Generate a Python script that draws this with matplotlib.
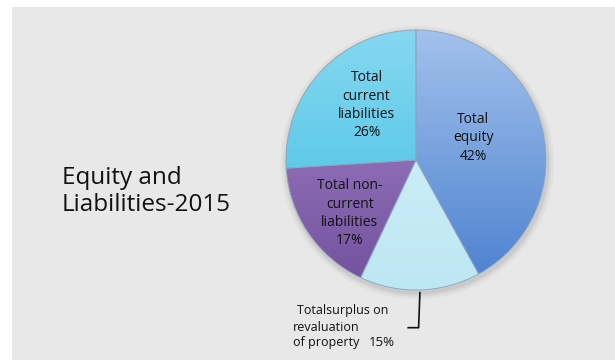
import numpy as np
import matplotlib.pyplot as plt
from matplotlib.colors import to_rgb
from matplotlib.patches import Circle

# balance sheet split, 2015 (percent of total)
categories = ["Total equity", "Total surplus on revaluation of property",
              "Total non-current liabilities", "Total current liabilities"]
shares = [42, 15, 17, 26]
colors = ["#6f9de0", "#c9eef7", "#8c6ab6", "#4ec4e6"]
# top / bottom shades for the glossy fill of each slice
shade_top = ["#a3c2ec", "#d8f3fa", "#a887cc", "#86d8f0"]
shade_bottom = ["#4a7fcf", "#bde7f3", "#71519c", "#3cbde3"]

plt.rcParams['font.family'] = ['Open Sans', 'DejaVu Sans']

fig = plt.figure(figsize=(6.15, 3.62), dpi=100)
fig.patch.set_facecolor("white")

# grey panel behind everything
bg = fig.add_axes([12 / 615, 2 / 362, 603 / 615, 353 / 362], zorder=0)
bg.set_facecolor("#e8e8e8")
bg.set_xticks([])
bg.set_yticks([])
for s in bg.spines.values():
    s.set_visible(False)

fig.text(62 / 615, 1 - 166 / 362, "Equity and\nLiabilities-2015", fontsize=17.5,
         va="top", ha="left", color="#111111", linespacing=1.15, zorder=2)

ax = fig.add_axes([286 / 615, 72 / 362, 260 / 615, 260 / 362], zorder=1)
ax.axis("off")

# soft shadow under the pie
for r, a in [(1.05, 0.05), (1.03, 0.07), (1.015, 0.09)]:
    ax.add_patch(Circle((0.01, -0.02), r, facecolor="#555555", alpha=a,
                        edgecolor="none", zorder=0.5, clip_on=False))

wedges, _ = ax.pie(shares, colors=colors, startangle=90, counterclock=False,
                   radius=1, wedgeprops=dict(edgecolor="#8aa6bd", linewidth=0.6))

yy = np.linspace(1, 0, 200)[:, None]
for w, c0, c1 in zip(wedges, shade_top, shade_bottom):
    top = np.array(to_rgb(c0))
    bot = np.array(to_rgb(c1))
    img = top * yy[..., None] + bot * (1 - yy[..., None])
    img = np.repeat(img, 2, axis=1)
    im = ax.imshow(img, extent=(-1, 1, -1, 1), origin="upper", zorder=1.5,
                   interpolation="bilinear", aspect="auto")
    im.set_clip_path(w)
    w.set_facecolor("none")
    w.set_zorder(2)
ax.set_xlim(-1, 1)
ax.set_ylim(-1, 1)
ax.set_aspect("equal")

lab = dict(ha="center", va="center", fontsize=10, color="#111111", linespacing=1.3, zorder=3)
ax.text(0.44, 0.17, "Total\nequity\n%d%%" % shares[0], **lab)
ax.text(-0.38, 0.42, "Total\ncurrent\nliabilities\n%d%%" % shares[3], **lab)
ax.text(-0.51, -0.41, "Total non-\ncurrent\nliabilities\n%d%%" % shares[2], **lab)

# label for the small slice sits below the pie
small = dict(ha="left", va="center", fontsize=9, color="#111111", clip_on=False)
ax.text(-0.915, -1.16, "Totalsurplus on", **small)
ax.text(-0.945, -1.285, "revaluation", **small)
ax.text(-0.945, -1.405, "of property", **small)
ax.text(-0.26, -1.40, "%d%%" % shares[1], ha="center", va="center",
        fontsize=9.5, color="#111111", clip_on=False)
ax.plot([0.03, 0.02, -0.06], [-1.02, -1.29, -1.29], color="#111111", lw=1.2, clip_on=False)

fig.savefig("out.png", dpi=100, facecolor=fig.get_facecolor())
